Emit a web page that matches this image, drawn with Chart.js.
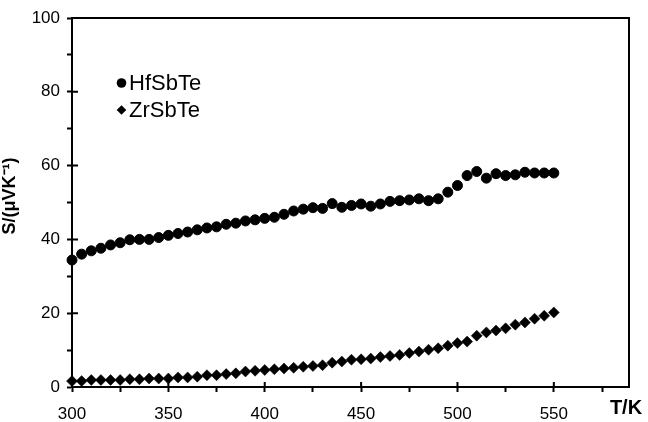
<!DOCTYPE html>
<html>
<head>
<meta charset="utf-8">
<title>Seebeck coefficient HfSbTe / ZrSbTe</title>
<script src="https://cdn.jsdelivr.net/npm/chart.js@4.4.0/dist/chart.umd.min.js"></script>
<style>
    html, body { margin: 0; padding: 0; background: #fff; }
    canvas { display: block; }
</style>
</head>
<body>
<canvas id="seebeck-chart" width="648" height="422"></canvas>
<script>
// Temperature (K), one point every 5 K
const temperatures = [
    300, 305, 310, 315, 320, 325, 330, 335, 340, 345,
    350, 355, 360, 365, 370, 375, 380, 385, 390, 395,
    400, 405, 410, 415, 420, 425, 430, 435, 440, 445,
    450, 455, 460, 465, 470, 475, 480, 485, 490, 495,
    500, 505, 510, 515, 520, 525, 530, 535, 540, 545,
    550
];

// S (µV/K)
const hfSbTe = [
    34.4, 36.0, 36.9, 37.6, 38.5, 39.1, 39.9, 40.0, 40.0, 40.5,
    41.1, 41.6, 42.0, 42.6, 43.1, 43.4, 44.1, 44.4, 45.0, 45.3,
    45.7, 46.0, 46.8, 47.7, 48.2, 48.6, 48.4, 49.7, 48.7, 49.2,
    49.6, 49.0, 49.6, 50.3, 50.5, 50.7, 51.0, 50.5, 51.0, 52.8,
    54.6, 57.3, 58.4, 56.6, 57.8, 57.3, 57.5, 58.2, 58.0, 58.0,
    58.0
];

const zrSbTe = [
    1.6, 1.6, 1.9, 1.9, 1.9, 1.9, 2.1, 2.1, 2.3, 2.3,
    2.3, 2.6, 2.6, 2.8, 3.2, 3.2, 3.5, 3.7, 4.2, 4.4,
    4.6, 4.8, 5.0, 5.2, 5.5, 5.7, 5.9, 6.6, 6.9, 7.4,
    7.5, 7.7, 8.1, 8.4, 8.7, 9.2, 9.6, 10.1, 10.5, 11.2,
    11.9, 12.3, 13.9, 14.8, 15.3, 15.9, 16.9, 17.5, 18.5, 19.3,
    20.2
];

// Axis ticks (minor + major); labels only on the major ones
const xTicks = [300, 325, 350, 375, 400, 425, 450, 475, 500, 525, 550, 575];
const xMajor = [300, 350, 400, 450, 500, 550];
const yTicks = [0, 10, 20, 30, 40, 50, 60, 70, 80, 90, 100];
const yMajor = [0, 20, 40, 60, 80, 100];

const FONT = "'Liberation Sans', Arial, Helvetica, sans-serif";

function toPoints(xs, ys) {
    return xs.map((x, i) => ({ x: x, y: ys[i] }));
}

/**
 * Frame, inward halves of major ticks, axis titles and the inset legend
 */
const framePlugin = {
    id: 'frame',
    afterDraw(chart) {
        const { ctx, chartArea, scales } = chart;
        const { left, right, top, bottom } = chartArea;
        ctx.save();
        ctx.strokeStyle = '#000';
        ctx.lineWidth = 2;

        // top and right sides of the box
        ctx.beginPath();
        ctx.moveTo(left, top);
        ctx.lineTo(right, top);
        ctx.lineTo(right, bottom);
        ctx.stroke();

        // major ticks cross the axes
        ctx.beginPath();
        xMajor.forEach(v => {
            const px = scales.x.getPixelForValue(v);
            ctx.moveTo(px, bottom);
            ctx.lineTo(px, bottom - 5);
        });
        yMajor.forEach(v => {
            const py = scales.y.getPixelForValue(v);
            ctx.moveTo(left, py);
            ctx.lineTo(left + 6, py);
        });
        ctx.stroke();

        ctx.fillStyle = '#000';
        ctx.textAlign = 'center';
        ctx.textBaseline = 'middle';

        // x axis label sits right of the axis end
        ctx.font = 'bold 20px ' + FONT;
        ctx.fillText('T/K', 626, 408);

        // y axis title
        ctx.save();
        ctx.translate(10, 196);
        ctx.rotate(-Math.PI / 2);
        ctx.font = 'bold 18px ' + FONT;
        ctx.fillText('S/(\u03bcVK\u207b\u00b9)', 0, 0);
        ctx.restore();

        // legend
        ctx.font = '22px ' + FONT;
        ctx.textAlign = 'left';
        const rowY = [83, 110];
        chart.data.datasets.forEach((ds, i) => {
            const cy = rowY[i];
            const cx = 121.5;
            ctx.beginPath();
            if (ds.pointStyle === 'rectRot') {
                ctx.moveTo(cx - 4.8, cy);
                ctx.lineTo(cx, cy - 4.8);
                ctx.lineTo(cx + 4.8, cy);
                ctx.lineTo(cx, cy + 4.8);
                ctx.closePath();
            } else {
                ctx.arc(cx, cy, 4.8, 0, Math.PI * 2);
            }
            ctx.fill();
            ctx.fillText(ds.label, 129, cy + 1);
        });
        ctx.restore();
    }
};

new Chart(document.getElementById('seebeck-chart'), {
    type: 'scatter',
    data: {
        datasets: [{
            label: 'HfSbTe',
            data: toPoints(temperatures, hfSbTe),
            pointStyle: 'circle',
            pointRadius: 5,
            pointBorderWidth: 1,
            pointBackgroundColor: '#000',
            pointBorderColor: '#000',
            showLine: false,
            clip: false
        }, {
            label: 'ZrSbTe',
            data: toPoints(temperatures, zrSbTe),
            pointStyle: 'rectRot',
            pointRadius: 5.5,
            pointBorderWidth: 0.5,
            pointBackgroundColor: '#000',
            pointBorderColor: '#000',
            showLine: false,
            clip: false
        }]
    },
    options: {
        responsive: false,
        animation: false,
        events: [],
        layout: {
            padding: { top: 18, right: 19, left: 0, bottom: 0 }
        },
        plugins: {
            legend: { display: false },
            tooltip: { enabled: false }
        },
        scales: {
            x: {
                type: 'linear',
                position: 'bottom',
                min: 300,
                max: 589,
                afterBuildTicks: scale => {
                    scale.ticks = xTicks.map(v => ({ value: v }));
                },
                afterFit: scale => { scale.height = 35; },
                grid: {
                    drawOnChartArea: false,
                    tickLength: 5,
                    tickWidth: 2,
                    tickColor: '#000'
                },
                border: { color: '#000', width: 2 },
                ticks: {
                    autoSkip: false,
                    maxRotation: 0,
                    padding: 12,
                    color: '#000',
                    font: { family: FONT, size: 17 },
                    callback: v => (xMajor.includes(v) ? String(v) : '')
                }
            },
            y: {
                type: 'linear',
                min: 0,
                max: 100,
                afterBuildTicks: scale => {
                    scale.ticks = yTicks.map(v => ({ value: v }));
                },
                afterFit: scale => { scale.width = 72; },
                grid: {
                    drawOnChartArea: false,
                    tickLength: 5,
                    tickWidth: 2,
                    tickColor: '#000'
                },
                border: { color: '#000', width: 2 },
                ticks: {
                    padding: 7,
                    color: '#000',
                    font: { family: FONT, size: 17 },
                    callback: v => (yMajor.includes(v) ? String(v) : '')
                }
            }
        }
    },
    plugins: [framePlugin]
});
</script>
</body>
</html>
